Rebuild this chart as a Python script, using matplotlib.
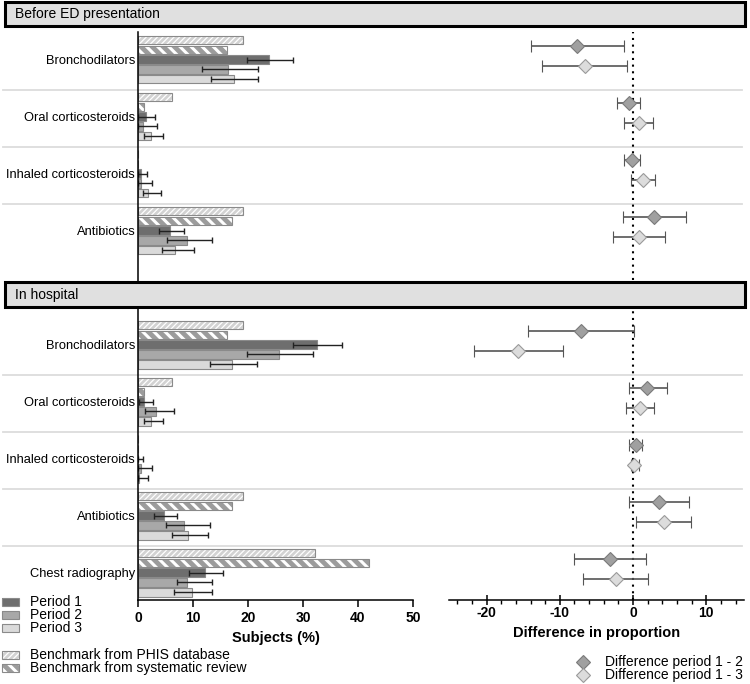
import numpy as np
import matplotlib
matplotlib.use("Agg")
import matplotlib.pyplot as plt
import matplotlib.patches as mpatches
import matplotlib.lines as mlines
from matplotlib.transforms import blended_transform_factory
from matplotlib.ticker import MultipleLocator

plt.rcParams['font.family'] = ['Liberation Sans', 'DejaVu Sans']
plt.rcParams['axes.unicode_minus'] = False

# ---- data: before ED presentation ----
cats_pre = ["Bronchodilators", "Oral corticosteroids", "Inhaled corticosteroids", "Antibiotics"]
phis_pre = [19.0, 6.1, 0.0, 19.0]
sysrev_pre = [16.1, 1.0, 0.0, 17.0]
p1_pre = [23.8, 1.45, 0.5, 5.9]
p1_pre_lo = [19.8, 0.06, 0.0, 3.9]
p1_pre_hi = [28.1, 3.0, 1.6, 8.4]
p2_pre = [16.3, 0.85, 0.6, 8.85]
p2_pre_lo = [11.6, 0.06, 0.0, 5.3]
p2_pre_hi = [21.9, 3.4, 2.6, 13.5]
p3_pre = [17.4, 2.3, 1.9, 6.7]
p3_pre_lo = [13.3, 1.0, 0.85, 4.3]
p3_pre_hi = [21.9, 4.6, 4.2, 10.1]
d12_pre = [-7.6, -0.6, -0.1, 2.85]
d12_pre_lo = [-14.0, -2.2, -1.2, -1.4]
d12_pre_hi = [-1.3, 1.0, 1.0, 7.2]
d13_pre = [-6.6, 0.75, 1.3, 0.75]
d13_pre_lo = [-12.4, -1.2, -0.3, -2.7]
d13_pre_hi = [-0.8, 2.7, 2.95, 4.4]

# ---- data: in hospital ----
cats_hosp = ["Bronchodilators", "Oral corticosteroids", "Inhaled corticosteroids", "Antibiotics",
             "Chest radiography"]
phis_hosp = [19.0, 6.1, 0.0, 19.0, 32.1]
sysrev_hosp = [16.1, 1.0, 0.0, 17.0, 42.0]
p1_hosp = [32.5, 1.15, 0.0, 4.7, 12.1]
p1_hosp_lo = [28.1, 0.25, 0.0, 2.9, 9.2]
p1_hosp_hi = [37.1, 2.7, 0.85, 7.0, 15.5]
p2_hosp = [25.6, 3.2, 0.55, 8.3, 8.85]
p2_hosp_lo = [19.8, 1.3, 0.0, 5.0, 7.0]
p2_hosp_hi = [31.9, 6.6, 2.6, 13.0, 13.5]
p3_hosp = [17.0, 2.3, 0.25, 9.0, 9.75]
p3_hosp_lo = [13.0, 1.0, 0.0, 6.1, 6.6]
p3_hosp_hi = [21.6, 4.6, 1.9, 12.8, 13.5]
d12_hosp = [-7.05, 1.95, 0.4, 3.5, -3.2]
d12_hosp_lo = [-14.4, -0.6, -0.5, -0.6, -8.1]
d12_hosp_hi = [0.15, 4.6, 1.25, 7.7, 1.7]
d13_hosp = [-15.7, 0.9, 0.15, 4.2, -2.4]
d13_hosp_lo = [-21.7, -0.9, -0.3, 0.45, -6.9]
d13_hosp_hi = [-9.6, 2.85, 0.75, 7.95, 2.1]

# ---- layout (y in pixel-like units from top of figure) ----
W, H = 750, 684
PITCH = 9.8
BAR_H = 8.6
GROUP = 57.0
Y0_PRE = 40.0
Y0_HOSP = 325.0

C_P1, C_P2, C_P3 = '#6e6e6e', '#a8a8a8', '#dadada'
C_PHIS, C_SR = '#d2d2d2', '#9c9c9c'
EDGE = '#8a8a8a'

fig = plt.figure(figsize=(W / 100, H / 100), dpi=100)
ax = fig.add_axes([138 / W, 1 - 600 / H, 275 / W, 568 / H])
ax2 = fig.add_axes([448.5 / W, 1 - 600 / H, 295.2 / W, 568 / H])
for a in (ax, ax2):
    a.set_ylim(600, 32)
    a.patch.set_alpha(0)


def hatched(a, y, vals, face, hatch, hlw):
    bars = a.barh(y, vals, height=BAR_H, color=face, edgecolor='white', hatch=hatch, linewidth=0)
    for b in bars:
        if hasattr(b, 'set_hatch_linewidth'):
            b.set_hatch_linewidth(hlw)
    a.barh(y, vals, height=BAR_H, fill=False, edgecolor=EDGE, linewidth=0.8)


def section(y0, cats, phis, sr, periods, diffs):
    g = y0 + np.arange(len(cats)) * GROUP
    hatched(ax, g, phis, C_PHIS, '//////', 0.9)
    hatched(ax, g + PITCH, sr, C_SR, '\\\\\\', 2.2)
    for k, (v, lo, hi, c) in enumerate(periods):
        y = g + (k + 2) * PITCH
        v = np.array(v)
        ax.barh(y, v, height=BAR_H, color=c, edgecolor=EDGE, linewidth=0.8)
        ax.errorbar(v, y, xerr=[v - np.array(lo), np.array(hi) - v], fmt='none',
                    ecolor='#222222', elinewidth=1.0, capsize=2.2, capthick=1.0)
    for k, (v, lo, hi, c, ec) in enumerate(diffs):
        y = g + (0.65 + 2.05 * k) * PITCH
        v = np.array(v)
        ax2.errorbar(v, y, xerr=[v - np.array(lo), np.array(hi) - v], fmt='D', ms=7.5,
                     mfc=c, mec=ec, mew=0.8, ecolor='#555555', elinewidth=1.2,
                     capsize=4, capthick=1.2, zorder=3)
    seps = g[1:] - 7.5
    trans = blended_transform_factory(fig.transFigure, ax.transData)
    for s in seps:
        fig.add_artist(mlines.Line2D([3 / W, 742 / W], [s, s], transform=trans,
                                     color='#dcdcdc', lw=1.3, zorder=0))
    return list(g + 2 * PITCH), cats


yt1, yl1 = section(Y0_PRE, cats_pre, phis_pre, sysrev_pre,
                   [(p1_pre, p1_pre_lo, p1_pre_hi, C_P1),
                    (p2_pre, p2_pre_lo, p2_pre_hi, C_P2),
                    (p3_pre, p3_pre_lo, p3_pre_hi, C_P3)],
                   [(d12_pre, d12_pre_lo, d12_pre_hi, '#a0a0a0', '#7a7a7a'),
                    (d13_pre, d13_pre_lo, d13_pre_hi, '#dcdcdc', '#9a9a9a')])
yt2, yl2 = section(Y0_HOSP, cats_hosp, phis_hosp, sysrev_hosp,
                   [(p1_hosp, p1_hosp_lo, p1_hosp_hi, C_P1),
                    (p2_hosp, p2_hosp_lo, p2_hosp_hi, C_P2),
                    (p3_hosp, p3_hosp_lo, p3_hosp_hi, C_P3)],
                   [(d12_hosp, d12_hosp_lo, d12_hosp_hi, '#a0a0a0', '#7a7a7a'),
                    (d13_hosp, d13_hosp_lo, d13_hosp_hi, '#dcdcdc', '#9a9a9a')])

# left axes styling
ax.set_xlim(0, 50)
ax.set_yticks(yt1 + yt2)
ax.set_yticklabels(yl1 + yl2, fontsize=9.3)
ax.tick_params(axis='y', length=0, pad=2)
ax.set_xticks([0, 10, 20, 30, 40, 50])
ax.tick_params(axis='x', length=5, width=1.1, labelsize=10, pad=3)
for t in ax.get_xticklabels():
    t.set_fontweight('bold')
ax.set_xlabel('Subjects (%)', fontsize=10.5, fontweight='bold', labelpad=4)
ax.spines[['top', 'right']].set_visible(False)
ax.spines[['left', 'bottom']].set_linewidth(1.1)

# right axes styling
ax2.set_xlim(-25.2, 15.1)
ax2.axvline(0, color='black', ls=(0, (1, 2.2)), lw=1.5, zorder=1)
ax2.set_yticks([])
ax2.set_xticks([-20, -10, 0, 10])
ax2.xaxis.set_minor_locator(MultipleLocator(2))
ax2.tick_params(axis='x', which='major', direction='inout', length=7, width=1.1,
                labelsize=10, pad=1)
ax2.tick_params(axis='x', which='minor', direction='out', length=3, width=1.0)
for t in ax2.get_xticklabels():
    t.set_fontweight('bold')
ax2.set_xlabel('Difference in proportion', fontsize=10.5, fontweight='bold', labelpad=4)
ax2.spines[['top', 'right', 'left']].set_visible(False)
ax2.spines['bottom'].set_linewidth(1.1)

# section headers
htrans = blended_transform_factory(fig.transFigure, ax.transData)
for (ytop, ybot, label) in [(2, 26, 'Before ED presentation'), (282, 307, 'In hospital')]:
    fig.add_artist(mpatches.Rectangle((5 / W, ybot), 740 / W, ytop - ybot, transform=htrans,
                                      facecolor='#e0e0e0', edgecolor='black', lw=2.2,
                                      zorder=10, clip_on=False))
    fig.text(15 / W, (ytop + ybot) / 2, label, transform=htrans, fontsize=10,
             va='center', ha='left', zorder=11)


def swatch(y, face, hatch=None, hlw=1.0):
    yb = 1 - (y + 4) / H
    if hatch:
        p = mpatches.Rectangle((2 / W, yb), 17 / W, 8 / H, transform=fig.transFigure,
                               facecolor=face, edgecolor='white', hatch=hatch, lw=0)
        if hasattr(p, 'set_hatch_linewidth'):
            p.set_hatch_linewidth(hlw)
        fig.add_artist(p)
    else:
        fig.add_artist(mpatches.Rectangle((2 / W, yb), 17 / W, 8 / H, transform=fig.transFigure,
                                          facecolor=face, lw=0))
    fig.add_artist(mpatches.Rectangle((2 / W, yb), 17 / W, 8 / H, transform=fig.transFigure,
                                      fill=False, edgecolor=EDGE, lw=0.8))


# legends
legend_rows = [(602, 'Period 1', C_P1, None, 0), (615, 'Period 2', C_P2, None, 0),
               (628, 'Period 3', C_P3, None, 0),
               (655, 'Benchmark from PHIS database', C_PHIS, '//////', 0.9),
               (668, 'Benchmark from systematic review', C_SR, '\\\\\\', 2.2)]
for y, lab, c, h, hl in legend_rows:
    swatch(y, c, h, hl)
    fig.text(30 / W, 1 - y / H, lab, fontsize=10, va='center', ha='left')

for y, lab, c, ec in [(662, 'Difference period 1 - 2', '#a0a0a0', '#7a7a7a'),
                      (674.5, 'Difference period 1 - 3', '#dcdcdc', '#9a9a9a')]:
    fig.add_artist(mlines.Line2D([583 / W], [1 - y / H], marker='D', ms=7, mfc=c, mec=ec,
                                 mew=0.8, transform=fig.transFigure))
    fig.text(605 / W, 1 - y / H, lab, fontsize=10, va='center', ha='left')

fig.savefig('out.png', dpi=100)
